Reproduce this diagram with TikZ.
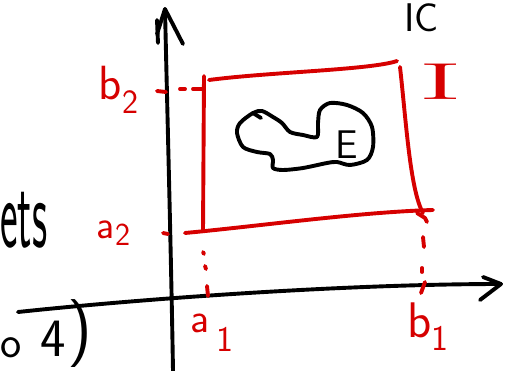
\documentclass[tikz,border=0pt]{standalone}
\usepackage{fontspec}
\definecolor{pen}{RGB}{214,0,0}
\tikzset{
  ink/.style={line width=3.9pt,line cap=round,line join=round},
  redink/.style={ink,draw=pen},
  blackink/.style={ink,draw=black},
  lab/.style={inner sep=0pt,font=\sffamily\fontsize{40}{40}\selectfont},
  redlab/.style={lab,text=pen},
}
\newcommand\subx[3]{\raisebox{#1}{\fontsize{#2}{#2}\selectfont #3}}
\begin{document}
\begin{tikzpicture}[x=1pt,y=-1pt]
\useasboundingbox (0,0) rectangle (518,371);

% axes
\coordinate (yb) at (173,371);
\coordinate (yt) at (165,9);
\draw[blackink] (yb) .. controls (171,250) and (167,100) .. (yt);
\draw[blackink] (157,34) -- (yt) -- (183,44);
\draw[blackink] (157,20) -- (158,43);
\coordinate (xl) at (18,312);
\coordinate (xr) at (501,284);
\draw[blackink] (xl) .. controls (150,298) and (350,284) .. (xr);
\draw[blackink] (483,277) -- (xr) -- (480,300);

% rectangle I
\coordinate (tl) at (209,80); \coordinate (tr) at (397,61);
\draw[redink] (tl) .. controls (270,72) and (370,70) .. (tr);
\coordinate (rt) at (400,67); \coordinate (rb) at (423,213);
\draw[redink] (rt) .. controls (406,120) and (410,190) .. (rb);
\coordinate (bl) at (185,233); \coordinate (br) at (433,210);
\draw[redink] (bl) .. controls (260,226) and (360,212) .. (br);
\coordinate (lt) at (204,76); \coordinate (lb) at (203,231);
\draw[redink] (lt) -- (lb);

% projections
\draw[redink] (157,91) -- (166,92);
\draw[redink] (180,89) -- (185,89);
\draw[redink] (193,89) -- (203,89);
\draw[redink] (163,233) -- (168,234);
\draw[redink] (203,252) -- (204,254);
\draw[redink] (205,266) -- (206,269);
\draw[redink] (207,286) -- (208,296);
\draw[redink] (417,213) -- (425,218) -- (427,222);
\draw[redink] (423,237) -- (424,247);
\draw[redink] (422,268) -- (422,272);
\draw[redink] (425,282) -- (421,293);

% set E
\draw[blackink] plot[smooth cycle] coordinates {
  (253,113) (240,123) (237,133) (243,147) (257,152) (270,154) (273,160)
  (273,168) (283,170) (303,168) (327,163) (337,162) (350,165) (367,160)
  (373,147) (372,127) (363,113) (347,105) (330,103) (320,110) (318,123)
  (317,137) (303,135) (290,132) (282,123) (273,117) (262,111)};
\draw[blackink] (253,113) -- (261,118);

% labels
\node[redlab,font=\sffamily\fontsize{48}{48}\selectfont,anchor=base west] (lb2) at (98,100) {b\kern1pt\subx{-14pt}{34}{2}};
\node[redlab,anchor=base west] (la2) at (96,238) {a\kern1pt\subx{-7pt}{32}{2}};
\node[redlab,font=\sffamily\fontsize{42}{42}\selectfont,anchor=base west] (la1) at (190,332) {a\kern7pt\subx{-19pt}{36}{1}};
\node[redlab,font=\sffamily\fontsize{50}{50}\selectfont,anchor=base west] (lb1) at (407,337) {b\kern0pt\subx{-13pt}{36}{1}};
\node[inner sep=0pt,text=pen,font=\rmfamily\fontsize{52}{52}\selectfont,anchor=base] (lI) at (441,100) {\scalebox{2.6}[1]{I}};
\node[lab,font=\sffamily\fontsize{40}{40}\selectfont,anchor=center] (lE) at (347,145) {E};
\node[lab,font=\sffamily\fontsize{40}{40}\selectfont,anchor=base west] (lR) at (404,32) {IC};
\node[lab,font=\sffamily\fontsize{100}{100}\selectfont,anchor=base west] (lets) at (0,247) {\scalebox{0.42}[1]{ets}};
\node[lab,font=\sffamily\fontsize{45}{45}\selectfont,anchor=base west] (lo) at (0,357) {o};
\node[lab,font=\sffamily\fontsize{54}{54}\selectfont,anchor=base west] (l4) at (40,356) {4};
\node[lab,font=\sffamily\fontsize{68}{68}\selectfont,anchor=center] (lp) at (80,334) {)};
\end{tikzpicture}
\end{document}
